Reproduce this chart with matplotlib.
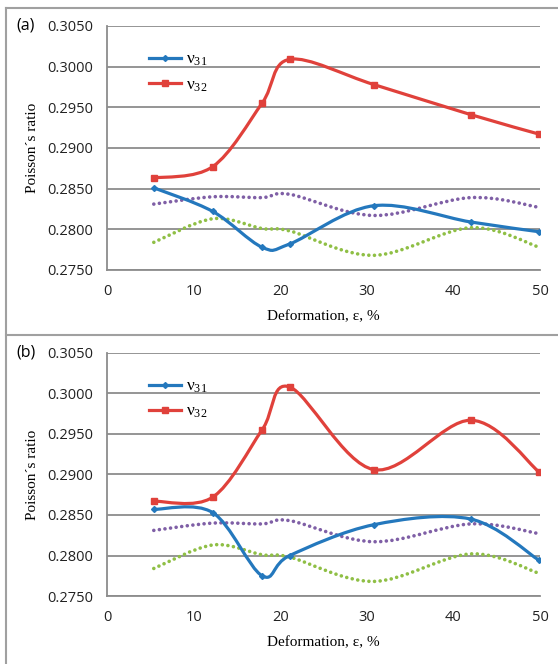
import numpy as np
import matplotlib
matplotlib.use("Agg")
import matplotlib.pyplot as plt
from matplotlib.path import Path
from matplotlib.patches import PathPatch
from matplotlib.lines import Line2D

plt.rcParams['mathtext.fontset'] = 'custom'
plt.rcParams['mathtext.rm'] = 'Liberation Serif'

# deformation values, %
eps = [5.4, 12.2, 17.9, 21.1, 30.8, 42.0, 49.9]

# (a)
nu31_a = [0.2851, 0.2822, 0.2778, 0.2782, 0.2829, 0.2809, 0.2797]
nu32_a = [0.2863, 0.2877, 0.2955, 0.3009, 0.2978, 0.2941, 0.2917]
# (b)
nu31_b = [0.2857, 0.2853, 0.2775, 0.2800, 0.2838, 0.2845, 0.2794]
nu32_b = [0.2867, 0.2872, 0.2955, 0.3008, 0.2906, 0.2967, 0.2903]
# dotted reference curves (same on both panels)
ref_hi = [0.2831, 0.2840, 0.2839, 0.2843, 0.2817, 0.2839, 0.2827]
ref_lo = [0.2784, 0.2813, 0.2801, 0.2798, 0.2768, 0.2802, 0.2778]

yticks = [0.2750, 0.2800, 0.2850, 0.2900, 0.2950, 0.3000, 0.3050]
xticks = [0, 10, 20, 30, 40, 50]

BLUE = '#2478bd'
RED = '#e0413b'
PURPLE = '#7f5fa6'
GREEN = '#8fbf45'
GRID = '#8c8c8c'


def smooth_path(x, y):
    # Excel-like smoothed line: cubic bezier through the points
    p = np.column_stack([x, y])
    n = len(p)
    verts = [p[0]]
    codes = [Path.MOVETO]
    for i in range(n - 1):
        p0 = p[i - 1] if i > 0 else p[i]
        p3 = p[i + 2] if i + 2 < n else p[i + 1]
        c1 = p[i] + (p[i + 1] - p0) / 6
        c2 = p[i + 1] - (p3 - p[i]) / 6
        verts += [c1, c2, p[i + 1]]
        codes += [Path.CURVE4] * 3
    return Path(verts, codes)


def curve(ax, x, y, color, lw=2.3, dotted=False):
    patch = PathPatch(smooth_path(x, y), facecolor='none', edgecolor=color,
                      lw=lw, zorder=3)
    if dotted:
        patch.set_linestyle((0, (0.01, 1.55)))
        patch.set_capstyle('round')
    ax.add_patch(patch)


def panel(ax, nu31, nu32, tag):
    curve(ax, eps, ref_hi, PURPLE, lw=2.6, dotted=True)
    curve(ax, eps, ref_lo, GREEN, lw=2.6, dotted=True)
    curve(ax, eps, nu31, BLUE)
    curve(ax, eps, nu32, RED)
    ax.plot(eps, nu31, ls='none', marker='D', ms=3, color=BLUE, zorder=4)
    ax.plot(eps, nu32, ls='none', marker='s', ms=5, color=RED, zorder=4)

    ax.set_xlim(0, 50)
    ax.set_ylim(0.2750, 0.3050)
    ax.set_xticks(xticks)
    ax.set_yticks(yticks)
    ax.set_yticklabels([f'{v:.4f}' for v in yticks])
    ax.tick_params(length=0, labelsize=10.5, colors='#222222', pad=10)
    for lab in ax.get_xticklabels() + ax.get_yticklabels():
        lab.set_family('Open Sans')
    ax.grid(axis='y', color=GRID, lw=1.3)
    ax.set_axisbelow(True)
    for s in ['top', 'right']:
        ax.spines[s].set_visible(False)
    for s in ['left', 'bottom']:
        ax.spines[s].set_color(GRID)
        ax.spines[s].set_linewidth(1.3)

    ax.set_xlabel('Deformation, ε, %', family='Liberation Serif', fontsize=11,
                  labelpad=8)
    ax.set_ylabel('Poisson´s ratio', family='Liberation Serif', fontsize=11,
                  labelpad=6)

    handles = [Line2D([], [], color=BLUE, lw=2.3, marker='D', ms=3),
               Line2D([], [], color=RED, lw=2.3, marker='s', ms=5)]
    labels = [r'ν$\mathregular{_{31}}$', r'ν$\mathregular{_{32}}$']
    ax.legend(handles, labels, loc='upper left', bbox_to_anchor=(0.078, 0.93),
              frameon=False, borderpad=0, handlelength=1.8, handletextpad=0.3,
              labelspacing=0.5, prop={'family': 'Liberation Serif', 'size': 12.5})

    ax.text(-0.21, 1.0, tag, transform=ax.transAxes, fontsize=11.5,
            family='Open Sans', va='center', ha='left')


fig = plt.figure(figsize=(5.58, 6.64), dpi=100)
ax_a = fig.add_axes([0.1918, 0.5934, 0.776, 0.3675])
ax_b = fig.add_axes([0.1918, 0.1024, 0.776, 0.3660])
panel(ax_a, nu31_a, nu32_a, '(a)')
panel(ax_b, nu31_b, nu32_b, '(b)')

# panel frames
frame = dict(color='#a0a0a0', lw=1.5, transform=fig.transFigure)
fig.add_artist(Line2D([0.011, 1.0], [0.988, 0.988], **frame))
fig.add_artist(Line2D([0.011, 1.0], [0.4955, 0.4955], **frame))
fig.add_artist(Line2D([0.011, 0.011], [0.0, 0.988], **frame))

fig.savefig('out.png', dpi=100)
